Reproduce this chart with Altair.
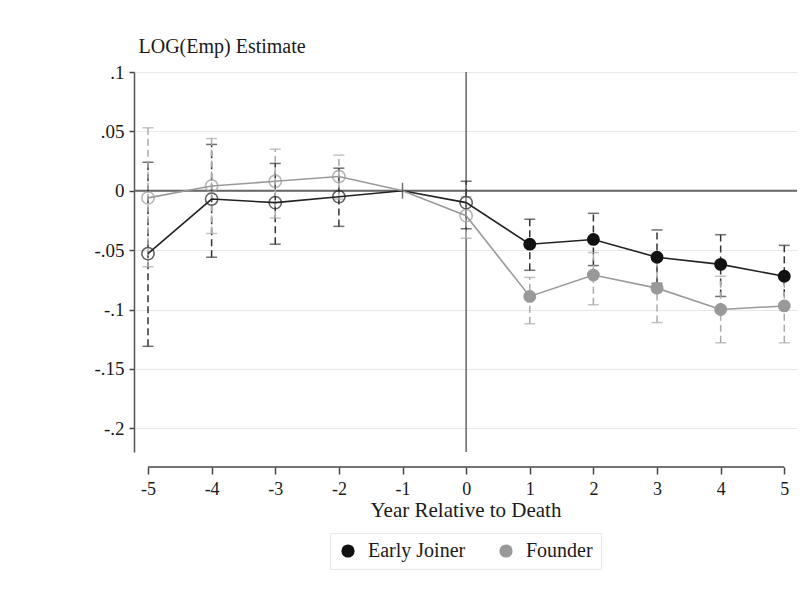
import altair as alt
import pandas as pd

years = [-5, -4, -3, -2, -1, 0, 1, 2, 3, 4, 5]
groups = ["Early Joiner", "Founder"]

ej_est = [-0.053, -0.007, -0.010, -0.005, 0.0, -0.010, -0.045, -0.041, -0.056, -0.062, -0.072]
ej_lo = [-0.131, -0.056, -0.045, -0.030, 0.0, -0.032, -0.067, -0.063, -0.078, -0.089, -0.098]
ej_hi = [0.024, 0.039, 0.023, 0.019, 0.0, 0.008, -0.024, -0.019, -0.033, -0.037, -0.046]

f_est = [-0.006, 0.004, 0.008, 0.012, 0.0, -0.021, -0.089, -0.071, -0.082, -0.100, -0.097]
f_lo = [-0.064, -0.036, -0.023, -0.007, 0.0, -0.040, -0.112, -0.096, -0.111, -0.128, -0.128]
f_hi = [0.053, 0.044, 0.035, 0.030, 0.0, -0.005, -0.073, -0.052, -0.055, -0.072, -0.070]

rows = []
for g, est, lo, hi in [(groups[0], ej_est, ej_lo, ej_hi), (groups[1], f_est, f_lo, f_hi)]:
    for yr, e, l, h in zip(years, est, lo, hi):
        rows.append({"group": g, "year": yr, "est": e, "lo": l, "hi": h,
                     "period": "post" if yr > 0 else "pre"})
df = pd.DataFrame(rows)

W, H = 663, 380
serif = "Liberation Serif"
INK = "#1a1a1a"

xscale = alt.Scale(domain=[-5.22, 5.2], nice=False, zero=False)
yscale = alt.Scale(domain=[-0.22, 0.1], nice=False, zero=False)
color = alt.Scale(domain=groups, range=["#111111", "#999999"])
line_colors = {"Early Joiner": "#222222", "Founder": "#9a9a9a"}
ci_colors = {"Early Joiner": "#333333", "Founder": "#aaaaaa"}

xaxis = alt.Axis(values=years, title="Year Relative to Death", offset=15, domain=False,
                 grid=False, tickColor="#444444", tickSize=7, tickWidth=1.5,
                 labelExpr="(datum.value < 0 ? '-' : '') + abs(datum.value)",
                 labelFont=serif, labelFontSize=18, labelColor=INK, labelPadding=6,
                 titleFont=serif, titleFontSize=21, titleFontWeight="normal",
                 titleColor=INK, titlePadding=1)
yaxis = alt.Axis(values=[0.1, 0.05, 0, -0.05, -0.1, -0.15, -0.2], title="LOG(Emp) Estimate",
                 domainColor="#555555", domainWidth=1.5, tickColor="#444444", tickSize=5,
                 tickWidth=1.5, grid=True, gridColor="#e8e8e8", gridWidth=1.2,
                 labelExpr="datum.value == 0 ? '0' : (datum.value < 0 ? '-' : '') + replace(format(abs(datum.value), '.2~f'), '0.', '.')",
                 labelFont=serif, labelFontSize=19, labelColor=INK, labelPadding=5,
                 titleAngle=0, titleAlign="left", titleX=4, titleY=-20, titleBaseline="alphabetic",
                 titleFont=serif, titleFontSize=20, titleFontWeight="normal", titleColor=INK)

frame = alt.Chart(df).mark_point(opacity=0).encode(
    x=alt.X("year:Q", scale=xscale, axis=xaxis),
    y=alt.Y("est:Q", scale=yscale, axis=yaxis),
)

ref_df = pd.DataFrame({"x0": [-5], "x1": [5], "zero": [0]})
xline = alt.Chart(ref_df).mark_rule(color="#444444", strokeWidth=1.5).encode(
    x=alt.X("x0:Q", scale=xscale), x2="x1:Q", y=alt.value(H + 15))
hzero = alt.Chart(ref_df).mark_rule(color="#666666", strokeWidth=2).encode(
    y=alt.Y("zero:Q", scale=yscale))
vzero = alt.Chart(ref_df).mark_rule(color="#666666", strokeWidth=1.5).encode(
    x=alt.X("zero:Q", scale=xscale))

ci_layers = []
series_layers = []
for g in groups:
    gdf = df[df["group"] == g]
    sub = gdf[gdf["year"] != -1]
    c = ci_colors[g]
    ci_layers.append(alt.Chart(sub).mark_rule(strokeWidth=1.5, strokeDash=[7, 4], color=c).encode(
        x=alt.X("year:Q", scale=xscale), y=alt.Y("lo:Q", scale=yscale), y2="hi:Q"))
    ci_layers.append(alt.Chart(sub).mark_tick(orient="horizontal", size=11, thickness=1.5, color=c).encode(
        x=alt.X("year:Q", scale=xscale), y=alt.Y("lo:Q", scale=yscale)))
    ci_layers.append(alt.Chart(sub).mark_tick(orient="horizontal", size=11, thickness=1.5, color=c).encode(
        x=alt.X("year:Q", scale=xscale), y=alt.Y("hi:Q", scale=yscale)))
    lc = line_colors[g]
    series_layers.append(alt.Chart(gdf).mark_line(strokeWidth=1.6, color=lc).encode(
        x=alt.X("year:Q", scale=xscale), y=alt.Y("est:Q", scale=yscale)))
    series_layers.append(alt.Chart(sub[sub["period"] == "pre"]).mark_point(
        filled=False, size=150, strokeWidth=1.6, shape="circle", color=lc).encode(
        x=alt.X("year:Q", scale=xscale), y=alt.Y("est:Q", scale=yscale)))

ref_tick = alt.Chart(df[df["year"] == -1].head(1)).mark_tick(
    orient="vertical", size=16, thickness=1.5, color="#333333").encode(
    x=alt.X("year:Q", scale=xscale), y=alt.Y("est:Q", scale=yscale))

filled_pts = alt.Chart(df[df["period"] == "post"]).mark_circle(size=165, opacity=1).encode(
    x=alt.X("year:Q", scale=xscale), y=alt.Y("est:Q", scale=yscale),
    color=alt.Color("group:N", scale=color, legend=alt.Legend(
        title=None, orient="none", legendX=196, legendY=461, direction="horizontal",
        strokeColor="#e8e8e8", padding=8, symbolType="circle", symbolSize=175,
        labelFont=serif, labelFontSize=20, labelColor=INK, columnPadding=30,
        symbolStrokeWidth=0, labelOffset=10, symbolOpacity=1)))

chart = alt.layer(
    frame, xline, hzero, vzero, *ci_layers, *series_layers, ref_tick, filled_pts
).properties(
    width=W, height=H,
    autosize=alt.AutoSizeParams(type="none"),
    padding={"left": 126, "top": 64, "right": 7, "bottom": 134},
    background="white",
).configure_view(stroke=None)

chart.save("out.html", embed_options={"renderer": "svg", "actions": False})
